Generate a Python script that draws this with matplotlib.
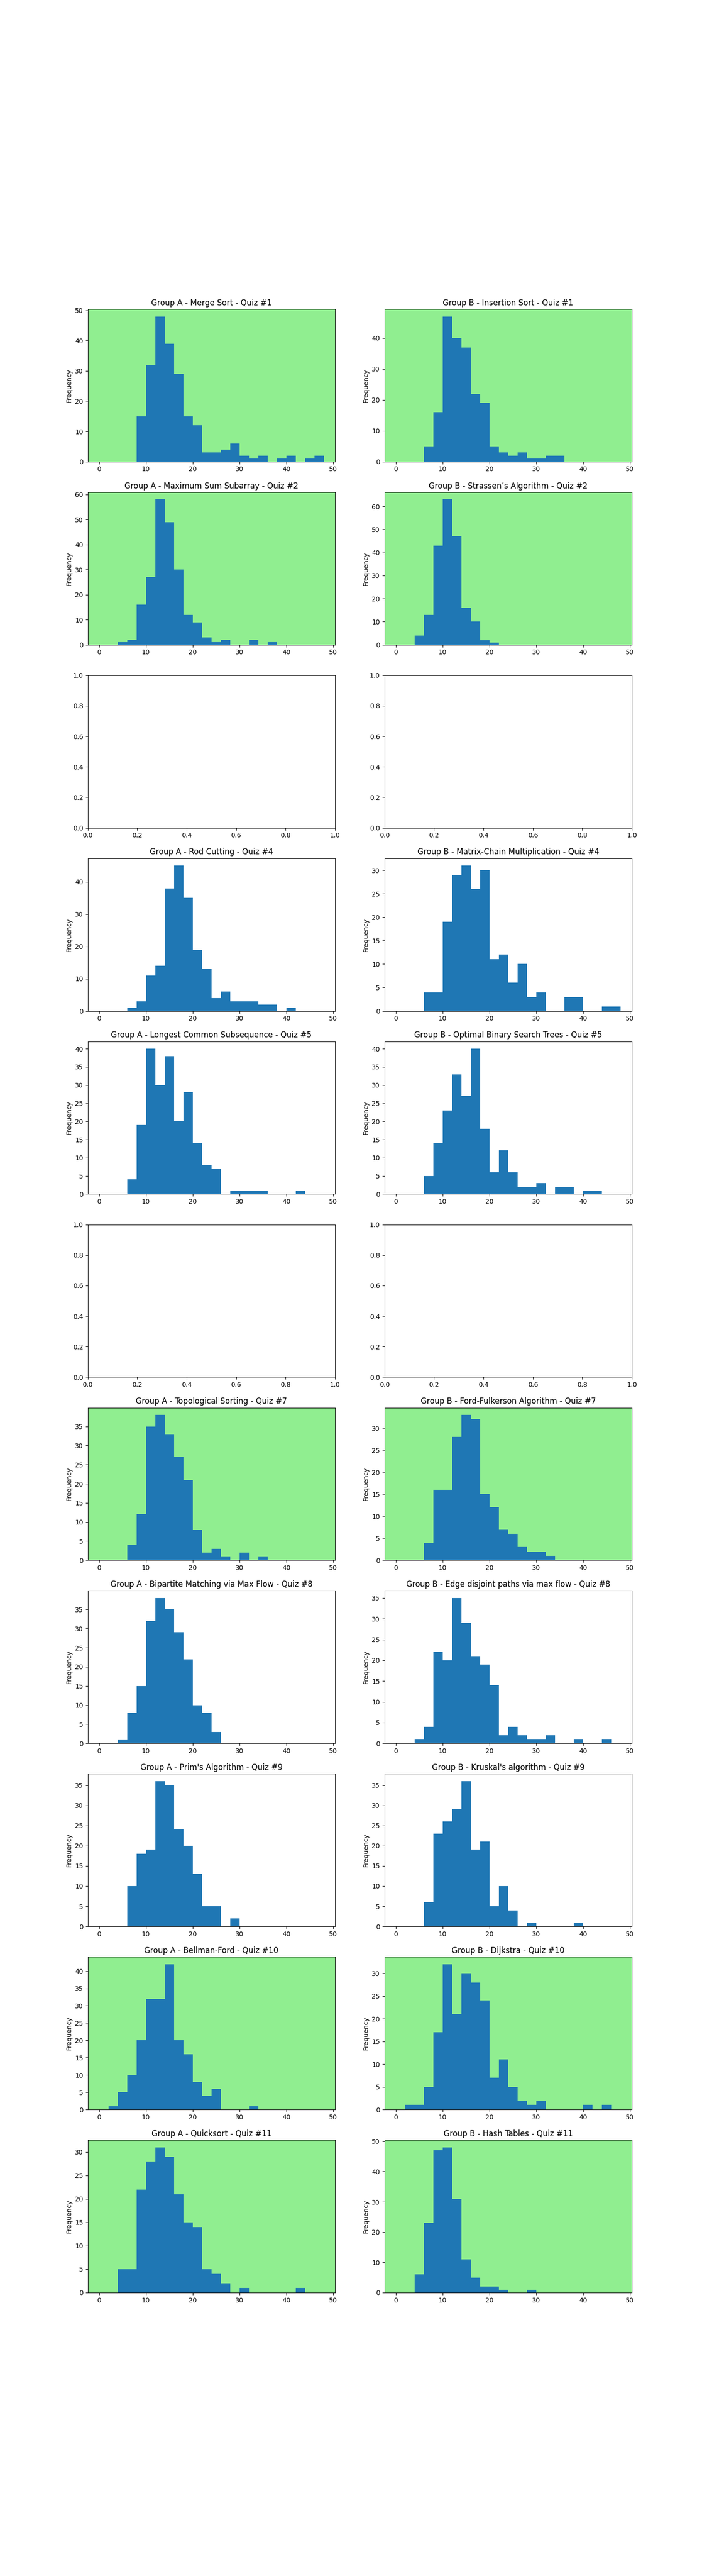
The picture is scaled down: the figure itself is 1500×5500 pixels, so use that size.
import numpy as np
import matplotlib
matplotlib.use("Agg")
import matplotlib.pyplot as plt

# Bin edges (width 2, from 0 to 48)
bin_edges = np.arange(0, 50, 2)

titles_a = [
    "Group A - Merge Sort - Quiz #1",
    "Group A - Maximum Sum Subarray - Quiz #2",
    None,
    "Group A - Rod Cutting - Quiz #4",
    "Group A - Longest Common Subsequence - Quiz #5",
    None,
    "Group A - Topological Sorting - Quiz #7",
    "Group A - Bipartite Matching via Max Flow - Quiz #8",
    "Group A - Prim's Algorithm - Quiz #9",
    "Group A - Bellman-Ford - Quiz #10",
    "Group A - Quicksort - Quiz #11",
]
titles_b = [
    "Group B - Insertion Sort - Quiz #1",
    "Group B - Strassen\u2019s Algorithm - Quiz #2",
    None,
    "Group B - Matrix-Chain Multiplication - Quiz #4",
    "Group B - Optimal Binary Search Trees - Quiz #5",
    None,
    "Group B - Ford-Fulkerson Algorithm - Quiz #7",
    "Group B - Edge disjoint paths via max flow - Quiz #8",
    "Group B - Kruskal's algorithm - Quiz #9",
    "Group B - Dijkstra - Quiz #10",
    "Group B - Hash Tables - Quiz #11",
]

# Counts per bin (bins 0-2, 2-4, ..., 46-48)
a_q1 = [0, 0, 0, 0, 15, 32, 48, 39, 29, 15, 12, 3, 3, 4, 6, 2, 1, 2, 0, 1, 2, 0, 1, 2]
b_q1 = [0, 0, 0, 5, 16, 47, 40, 37, 22, 19, 5, 3, 2, 3, 1, 1, 2, 2, 0, 0, 0, 0, 0, 0]
a_q2 = [0, 0, 1, 2, 16, 27, 58, 49, 30, 12, 9, 3, 1, 2, 0, 0, 2, 0, 1, 0, 0, 0, 0, 0]
b_q2 = [0, 0, 4, 13, 43, 63, 47, 16, 10, 2, 1, 0, 0, 0, 0, 0, 0, 0, 0, 0, 0, 0, 0, 0]
a_q4 = [0, 0, 0, 1, 3, 11, 14, 38, 45, 35, 19, 13, 4, 6, 3, 3, 3, 2, 2, 0, 1, 0, 0, 0]
b_q4 = [0, 0, 0, 4, 4, 19, 29, 31, 26, 30, 11, 12, 6, 10, 3, 4, 0, 0, 3, 3, 0, 0, 1, 1]
a_q5 = [0, 0, 0, 4, 19, 40, 30, 38, 20, 28, 14, 8, 7, 0, 1, 1, 1, 1, 0, 0, 0, 1, 0, 0]
b_q5 = [0, 0, 0, 5, 14, 23, 33, 27, 40, 18, 6, 12, 6, 2, 2, 3, 0, 2, 2, 0, 1, 1, 0, 0]
a_q7 = [0, 0, 0, 4, 12, 35, 38, 33, 27, 21, 8, 2, 3, 1, 0, 2, 0, 1, 0, 0, 0, 0, 0, 0]
b_q7 = [0, 0, 0, 4, 16, 16, 28, 33, 32, 15, 12, 7, 6, 3, 2, 2, 1, 0, 0, 0, 0, 0, 0, 0]
a_q8 = [0, 0, 1, 8, 15, 32, 38, 35, 29, 22, 10, 8, 3, 0, 0, 0, 0, 0, 0, 0, 0, 0, 0, 0]
b_q8 = [0, 0, 1, 4, 22, 20, 35, 29, 21, 19, 14, 2, 4, 2, 1, 1, 2, 0, 0, 1, 0, 0, 1, 0]
a_q9 = [0, 0, 0, 10, 18, 19, 36, 35, 24, 20, 13, 5, 5, 0, 2, 0, 0, 0, 0, 0, 0, 0, 0, 0]
b_q9 = [0, 0, 0, 6, 23, 26, 29, 36, 19, 21, 5, 10, 4, 0, 1, 0, 0, 0, 0, 1, 0, 0, 0, 0]
a_q10 = [0, 1, 5, 10, 20, 32, 32, 42, 20, 16, 8, 4, 6, 0, 0, 0, 1, 0, 0, 0, 0, 0, 0, 0]
b_q10 = [0, 1, 1, 5, 17, 32, 21, 30, 28, 24, 7, 11, 5, 2, 1, 2, 0, 0, 0, 0, 1, 0, 1, 0]
a_q11 = [0, 0, 5, 5, 22, 28, 31, 29, 21, 15, 14, 5, 4, 2, 0, 1, 0, 0, 0, 0, 0, 1, 0, 0]
b_q11 = [0, 0, 6, 23, 47, 48, 31, 11, 5, 2, 2, 1, 0, 0, 1, 0, 0, 0, 0, 0, 0, 0, 0, 0]

counts_a = [a_q1, a_q2, None, a_q4, a_q5, None, a_q7, a_q8, a_q9, a_q10, a_q11]
counts_b = [b_q1, b_q2, None, b_q4, b_q5, None, b_q7, b_q8, b_q9, b_q10, b_q11]
highlight = [True, True, False, False, False, False, True, False, False, True, True]

fig, axes = plt.subplots(11, 2, figsize=(15, 55))

for r in range(11):
    for c, (titles, counts) in enumerate(((titles_a, counts_a), (titles_b, counts_b))):
        ax = axes[r, c]
        if counts[r] is None:
            continue
        ax.hist(bin_edges[:-1], bins=bin_edges, weights=counts[r], color="#1f77b4")
        ax.set_title(titles[r])
        ax.set_ylabel("Frequency")
        if highlight[r]:
            ax.set_facecolor("lightgreen")

fig.savefig("out.png", dpi=100)
